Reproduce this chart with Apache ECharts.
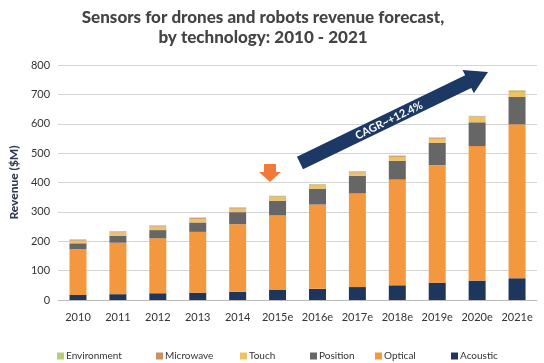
<!DOCTYPE html>
<html>
<head>
<meta charset="utf-8">
<script src="https://cdn.jsdelivr.net/npm/echarts@6/dist/echarts.min.js"></script>
<style>html,body{margin:0;padding:0;background:#fff}#c{width:544px;height:363px}</style>
</head>
<body>
<div id="c"></div>
<script>
const categories = ['2010','2011','2012','2013','2014','2015e','2016e','2017e','2018e','2019e','2020e','2021e'];
const acoustic = [17,20,23,25,28,34,38,44,50,59,66,74];
const optical = [156,175,187,207,230,255,287,319,360,400,458,524];
const position = [20,24,28,32,41,49,54,60,64,76,81,93];
const touch = [9,11,12,12,12,12,11,11,13,14,17,18];
const microwave = [3,3,3,3,3,3,3,3,3,3,3,3];
const environment = [2,2,2,2,2,2,2,2,2,2,2,2];
const yTicks = [0,100,200,300,400,500,600,700,800];

const colors = {
  Acoustic:'#1e365c', Optical:'#f4983f', Position:'#666666',
  Touch:'#eec163', Microwave:'#c99166', Environment:'#b9cc7a'
};
const FONT = 'Lato';
const chart = echarts.init(document.getElementById('c'));

const seriesDefs = [
  ['Acoustic', acoustic], ['Optical', optical], ['Position', position],
  ['Touch', touch], ['Microwave', microwave], ['Environment', environment]
];
const legendPos = {Environment:52, Microwave:151, Touch:235, Position:305, Optical:370, Acoustic:446};

// big arrow geometry (annotation)
function arrowPts(S, E, w, hw, hl){
  const dx=E[0]-S[0], dy=E[1]-S[1], L=Math.hypot(dx,dy);
  const u=[dx/L,dy/L], n=[-u[1],u[0]];
  const H=[E[0]-u[0]*hl, E[1]-u[1]*hl];
  return [
    [S[0]+n[0]*w, S[1]+n[1]*w],[H[0]+n[0]*w, H[1]+n[1]*w],[H[0]+n[0]*hw, H[1]+n[1]*hw],
    E,[H[0]-n[0]*hw, H[1]-n[1]*hw],[H[0]-n[0]*w, H[1]-n[1]*w],[S[0]-n[0]*w, S[1]-n[1]*w]
  ];
}
const aS=[300,163], aE=[488,72];
const ang=Math.atan2(aS[1]-aE[1], aE[0]-aS[0]);

chart.setOption({
  animation:false,
  textStyle:{fontFamily:FONT},
  title:{
    text:'Sensors for drones and robots revenue forecast,\nby technology: 2010 - 2021',
    left:258, textAlign:'center', top:3,
    textStyle:{fontFamily:FONT, fontWeight:900, fontSize:17, color:'#444', lineHeight:20}
  },
  legend: seriesDefs.map(([name]) => ({
    data:[name], left:legendPos[name], top:346, itemWidth:7, itemHeight:7, icon:'rect',
    textStyle:{fontFamily:FONT, fontSize:10, color:'#333', padding:[0,0,0,-3]}, selectedMode:false
  })),
  grid:{left:48, right:7, top:65, bottom:63},
  xAxis:{
    type:'category', data:categories,
    axisLine:{show:true, lineStyle:{color:'#bbb'}}, axisTick:{show:false},
    axisLabel:{fontFamily:FONT, fontSize:11, color:'#333', margin:12, interval:0}
  },
  yAxis:{
    type:'value', min:yTicks[0], max:yTicks[yTicks.length-1], interval:100,
    name:'Revenue ($M)', nameLocation:'middle', nameGap:30,
    nameTextStyle:{fontFamily:FONT, fontWeight:900, fontSize:12, color:'#2f3b52'},
    axisLabel:{fontFamily:FONT, fontSize:11, color:'#333', margin:8},
    splitLine:{lineStyle:{color:'#d4d4d4'}}, axisLine:{show:false}, axisTick:{show:false}
  },
  series: seriesDefs.map(([name,data]) => ({
    name, type:'bar', stack:'all', data, barWidth:17,
    itemStyle:{color:colors[name]}
  })),
  graphic:[
    {type:'polygon', shape:{points:arrowPts(aS,aE,7,13,22)}, style:{fill:'#1c3864'}, z:10},
    {type:'text', x:(aS[0]+aE[0])/2-5, y:(aS[1]+aE[1])/2+3, rotation:ang,
     style:{text:'CAGR~+12.4%', fill:'#fff', font:'bold 11px Lato', align:'center', verticalAlign:'middle'}, z:11},
    {type:'polygon', shape:{points:[[264,164],[276,164],[276,172],[281,172],[270,182],[259,172],[264,172]]},
     style:{fill:'#f07a3a'}, z:10}
  ]
});
</script>
</body>
</html>
